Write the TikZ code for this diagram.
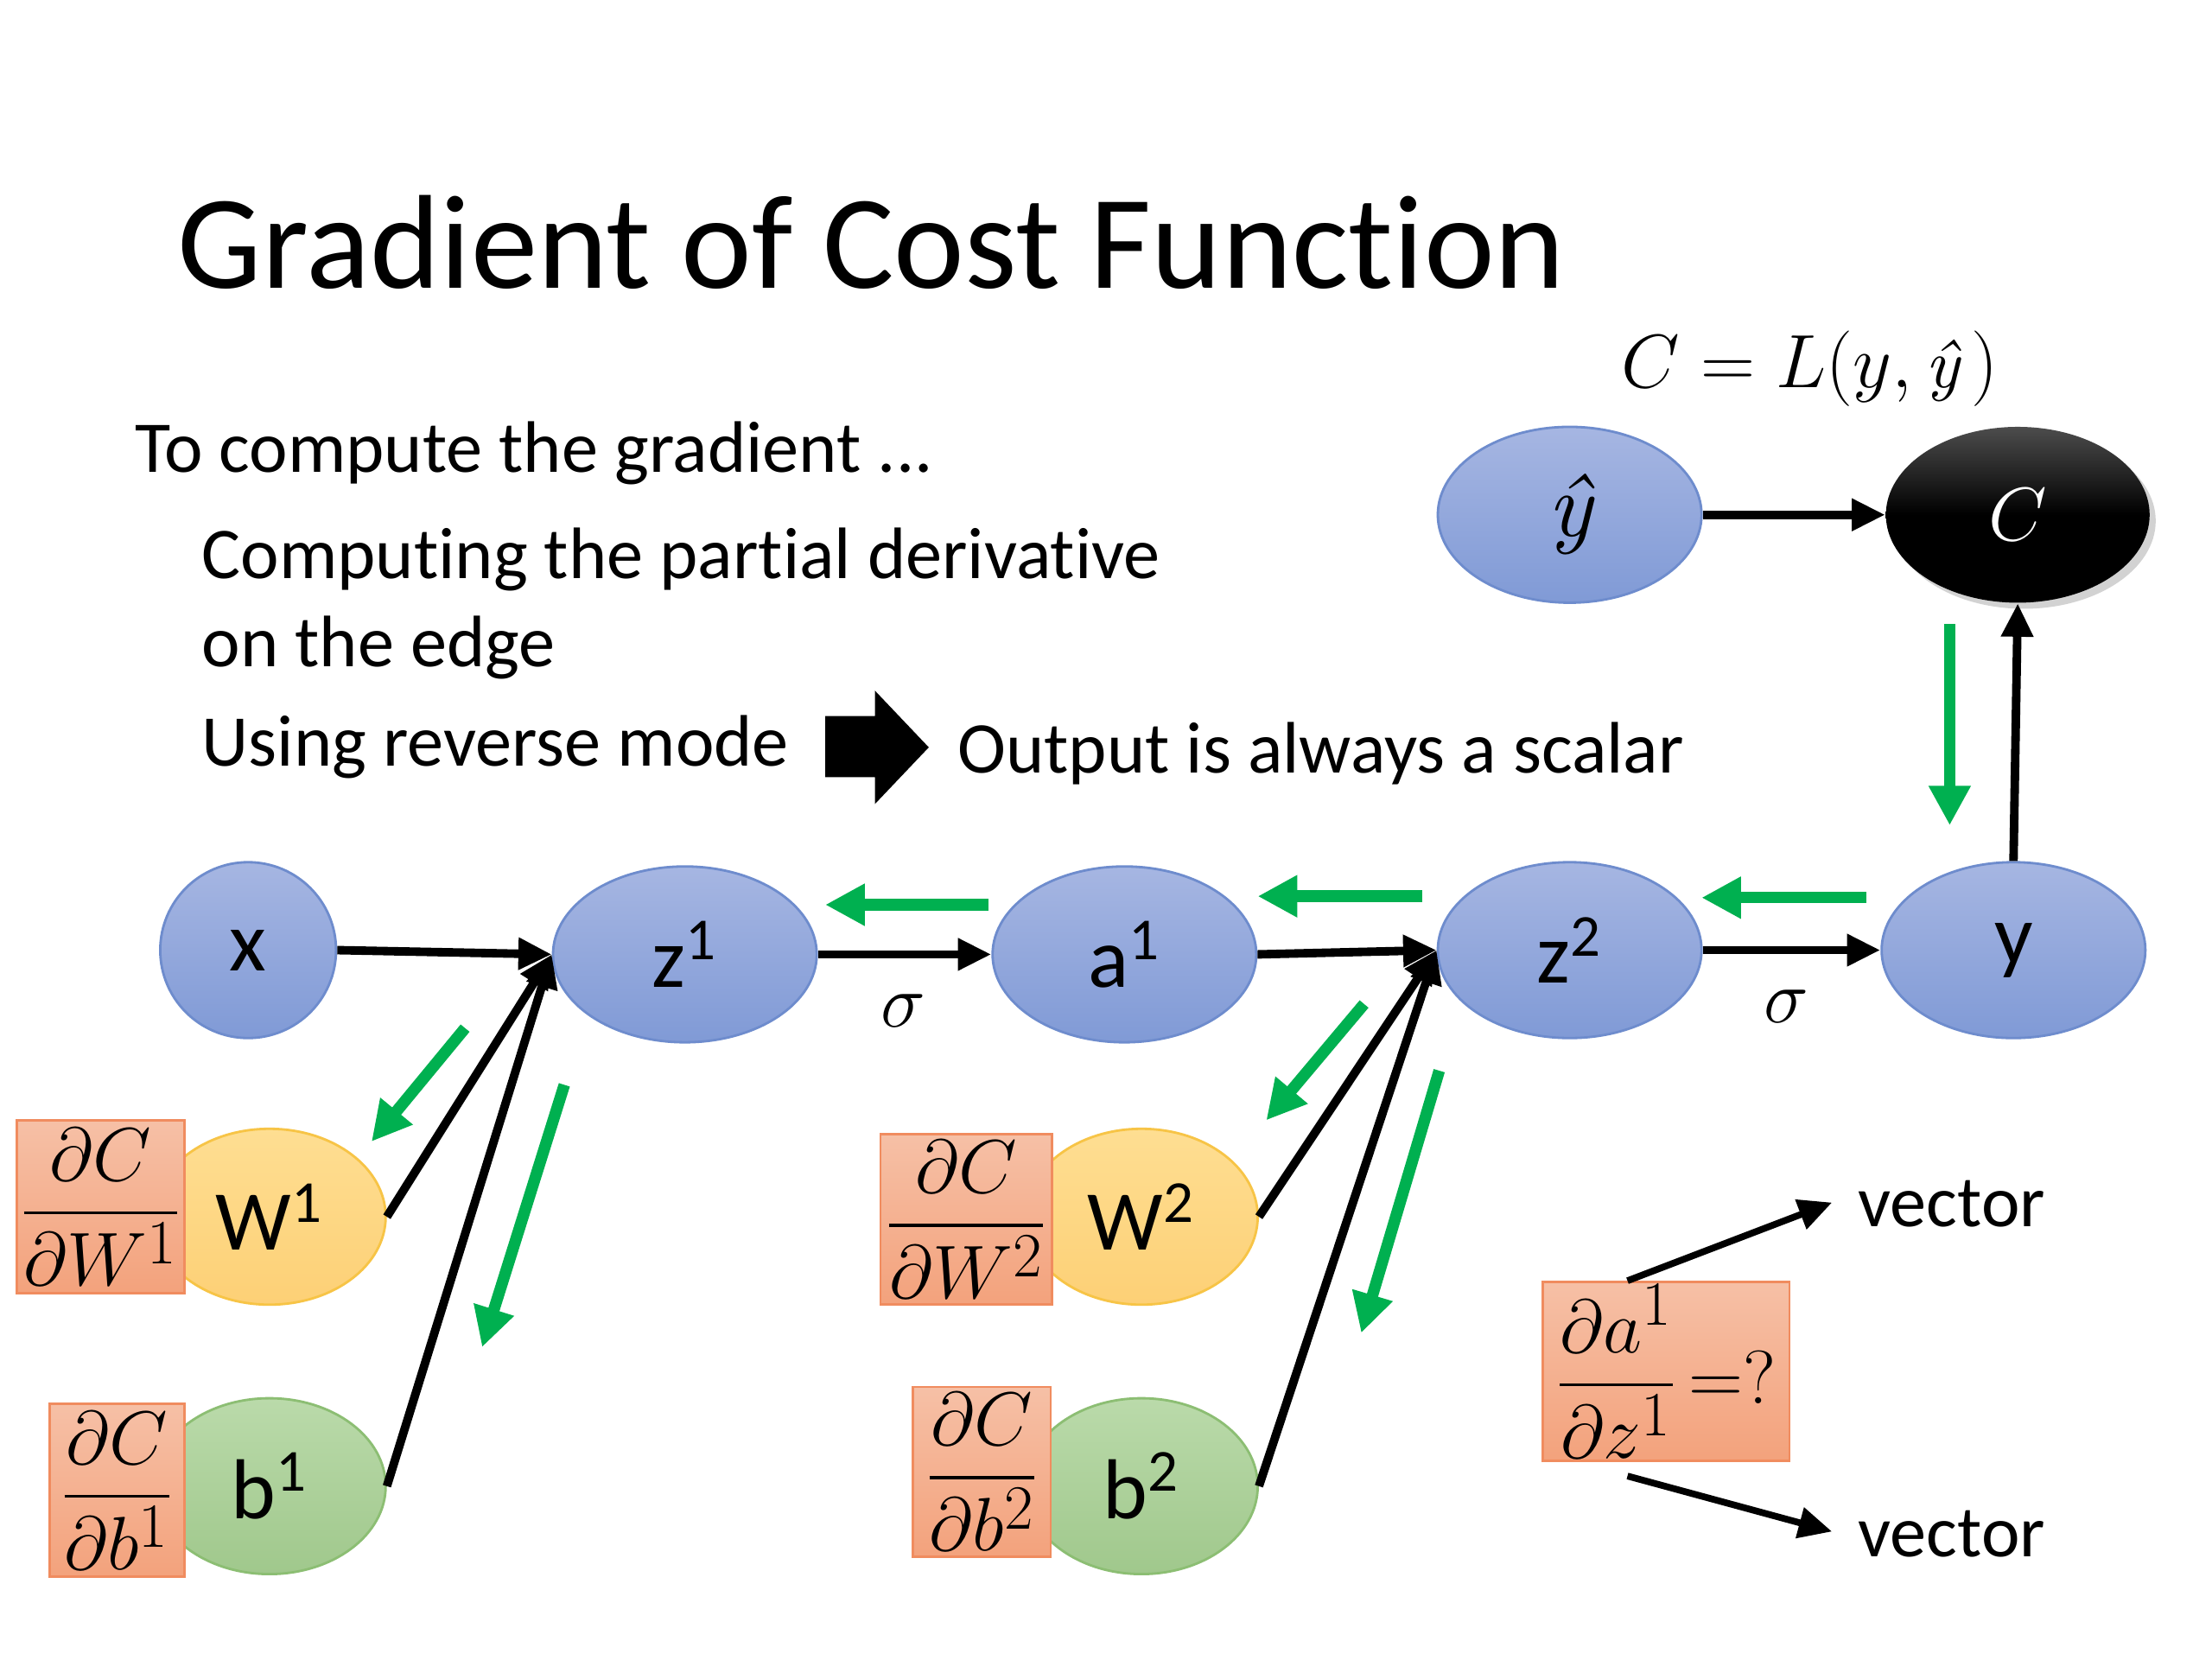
\documentclass[tikz,border=0pt]{standalone}
\usepackage{amsmath}
\usepackage{fontspec}
\setmainfont{Carlito}[Ligatures={NoCommon}]
\newfontfamily\lmit{lmroman10-italic.otf}
\usetikzlibrary{shapes.geometric,arrows.meta,shadows,calc}
\newlength\uu \setlength\uu{0.01641cm}
\newcommand\fsz[1]{\fontsize{#1}{#1}\selectfont}
\definecolor{btop}{RGB}{166,182,226}
\definecolor{bbot}{RGB}{128,154,214}
\definecolor{bdr}{RGB}{110,140,205}
\definecolor{ytop}{RGB}{254,222,146}
\definecolor{ybot}{RGB}{253,208,118}
\definecolor{ydr}{RGB}{247,196,70}
\definecolor{gtop}{RGB}{186,218,170}
\definecolor{gbot}{RGB}{160,200,140}
\definecolor{gdr}{RGB}{140,190,115}
\definecolor{otop}{RGB}{246,192,166}
\definecolor{obot}{RGB}{243,162,124}
\definecolor{odr}{RGB}{240,140,95}
\definecolor{grn}{RGB}{0,176,80}
\tikzset{
  bnode/.style={ellipse, draw=bdr, line width=0.8pt, top color=btop, bottom color=bbot,
    minimum width=186\uu, minimum height=124\uu, inner sep=0pt, font=\fsz{28}},
  ynode/.style={ellipse, draw=ydr, line width=0.8pt, top color=ytop, bottom color=ybot,
    minimum width=164\uu, minimum height=124\uu, inner sep=0pt, font=\fsz{28}},
  gnode/.style={ellipse, draw=gdr, line width=0.8pt, top color=gtop, bottom color=gbot,
    minimum width=164\uu, minimum height=124\uu, inner sep=0pt, font=\fsz{28}},
  obox/.style={rectangle, draw=odr, line width=0.8pt, top color=otop, bottom color=obot,
    inner sep=0pt, font=\fsz{28}},
  txt/.style={anchor=base west, font=\fsz{24}, inner sep=0pt},
  blk/.style={line width=2.8pt, -{Triangle[length=11pt,width=10pt]}},
  garr/.style={draw=grn, line width=3.8pt, -{Triangle[length=13pt,width=13pt]}, color=grn},
}
\begin{document}
\begin{tikzpicture}[x=0.01641cm, y=-0.01641cm]
\useasboundingbox (0,0) rectangle (1560,1170);
\fill[white] (0,0) rectangle (1560,1170);

% texts
\node[txt, font=\fsz{44}] (title) at (125,203) {Gradient of Cost Function};
\node[txt] (t1) at (95,333) {To compute the gradient ...};
\node[txt] (t2) at (142,408) {Computing the partial derivative};
\node[txt] (t3) at (142,470) {on the edge};
\node[txt] (t4) at (142,540) {Using reverse mode};
\node[txt] (t5) at (675,545) {Output is always a scalar};
\node[txt, font=\fsz{23}] (eq) at (1143,273) {$C = L(y,\,${\lmit ŷ}$\,)$};
\fill (582,505) -- (617,505) -- (617,487) -- (655,527) -- (617,567) -- (617,548) -- (582,548) -- cycle;

% main nodes
\node[bnode, minimum width=124\uu] (x) at (175,670) {x};
\node[bnode] (z1) at (483,673) {z\textsuperscript{1}};
\node[bnode] (a1) at (793,673) {a\textsuperscript{1}};
\node[bnode] (z2) at (1107,670) {z\textsuperscript{2}};
\node[bnode] (y) at (1420,670) {y};
\node[bnode, font=\fsz{30}] (yh) at (1107,363) {\lmit ŷ};
\node[ellipse, minimum width=186\uu, minimum height=124\uu, inner sep=0pt,
  top color=black!70, bottom color=black, middle color=black, draw=none,
  drop shadow={shadow xshift=2pt, shadow yshift=-2pt, opacity=0.35},
  text=white, font=\fsz{30}] (C) at (1423,363) {$C$};

\node[ynode] (W1) at (190,858) {W\textsuperscript{1}};
\node[gnode] (b1) at (190,1048) {b\textsuperscript{1}};
\node[ynode] (W2) at (805,858) {W\textsuperscript{2}};
\node[gnode] (b2) at (805,1048) {b\textsuperscript{2}};

% derivative boxes
\node[obox, minimum width=118\uu, minimum height=122\uu] (dW1) at (71,851) {$\dfrac{\partial C}{\partial W^1}$};
\node[obox, minimum width=95\uu, minimum height=122\uu] (db1) at (82.5,1051) {$\dfrac{\partial C}{\partial b^1}$};
\node[obox, minimum width=121\uu, minimum height=120\uu] (dW2) at (681.5,860) {$\dfrac{\partial C}{\partial W^2}$};
\node[obox, minimum width=97\uu, minimum height=120\uu] (db2) at (692.5,1038) {$\dfrac{\partial C}{\partial b^2}$};
\node[obox, minimum width=174\uu, minimum height=126\uu] (q) at (1175,967) {$\dfrac{\partial a^1}{\partial z^1}\,{=}{?}$\hspace{8pt}};

\node[txt] (v1) at (1310,865) {vector};
\node[txt] (v2) at (1310,1098) {vector};

% sigma labels
\node[font=\fsz{28}] (s1) at (637,713) {$\sigma$};
\node[font=\fsz{28}] (s2) at (1260,710) {$\sigma$};

% black connectors
\draw[blk] (x.east) -- (z1.west);
\draw[blk] (W1.east) -- (z1.west);
\draw[blk] (b1.east) -- (z1.west);
\draw[blk] (z1.east) -- (a1.west);
\draw[blk] (a1.east) -- (z2.west);
\draw[blk] (W2.east) -- (z2.west);
\draw[blk] (b2.east) -- (z2.west);
\draw[blk] (z2.east) -- (y.west);
\draw[blk] (y.north) -- (C.south);
\draw[blk] (yh.east) -- (C.west);
\coordinate (qt) at ($(q.north west)!0.345!(q.north east)$);
\coordinate (qb) at ($(q.south west)!0.345!(q.south east)+(0,10)$);
\coordinate (v1e) at (1292,848);
\coordinate (v2e) at (1292,1080);
\draw[blk, line width=2.2pt] (qt) -- (v1e);
\draw[blk, line width=2.2pt] (qb) -- (v2e);

% green backward arrows
\draw[garr] (697,638) -- (582,638);
\draw[garr] (1003,632) -- (887,632);
\draw[garr] (1316,633) -- (1200,633);
\draw[garr] (1375,440) -- (1375,582);
\draw[garr] (328,725) -- (262,805);
\draw[garr] (398,765) -- (340,950);
\draw[garr] (962,708) -- (893,790);
\draw[garr] (1015,755) -- (960,940);
\end{tikzpicture}
\end{document}
